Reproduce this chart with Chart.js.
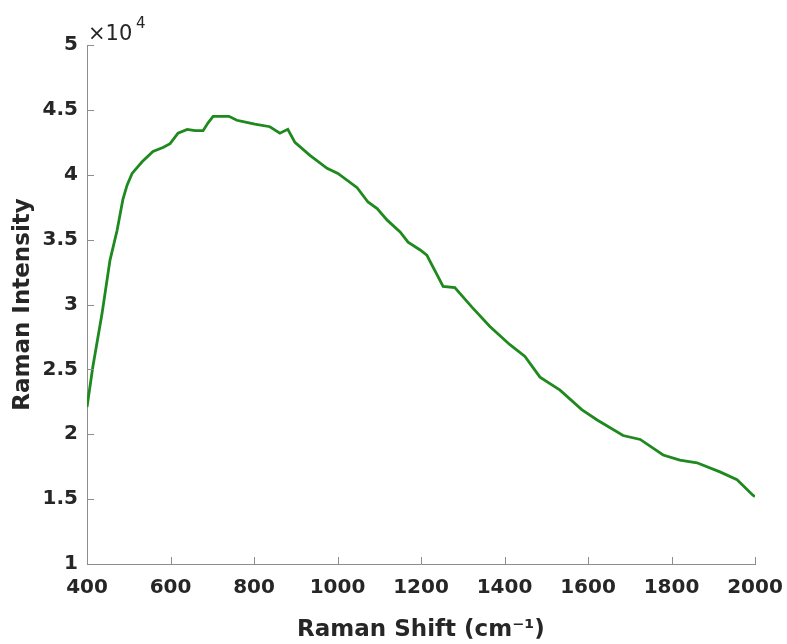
<!DOCTYPE html>
<html>
<head>
<meta charset="utf-8">
<script src="https://cdn.jsdelivr.net/npm/chart.js@4"></script>
<style>
  html, body { margin: 0; padding: 0; background: #fff; }
  #wrap { width: 787px; height: 644px; }
</style>
</head>
<body>
<div id="wrap"><canvas id="chartRaman" width="787" height="644"></canvas></div>
<script>
const chartRaman = document.getElementById("chartRaman");

// Raman spectrum (intensity in units of 1e4)
const shift = [400, 414, 436, 455, 472, 486, 496, 508, 532, 558, 582, 599, 618, 640, 659, 678, 690, 702,
	720, 740, 759, 774, 802, 838, 862, 881, 898, 934, 975, 1001, 1047, 1073, 1095, 1119, 1150, 1169,
	1198, 1214, 1222, 1253, 1281, 1322, 1365, 1413, 1449, 1485, 1533, 1585, 1622, 1684, 1725, 1780,
	1820, 1861, 1916, 1957, 1995, 2000];
const intensity = [2.21, 2.52, 2.93, 3.34, 3.57, 3.81, 3.92, 4.01, 4.10, 4.18, 4.21, 4.24, 4.32, 4.35, 4.34, 4.34, 4.40, 4.45,
	4.45, 4.45, 4.42, 4.41, 4.39, 4.37, 4.32, 4.35, 4.25, 4.15, 4.05, 4.01, 3.90, 3.79, 3.74, 3.65, 3.56, 3.48,
	3.42, 3.38, 3.33, 3.14, 3.13, 2.98, 2.83, 2.69, 2.60, 2.44, 2.34, 2.19, 2.11, 1.99, 1.96, 1.84,
	1.80, 1.78, 1.71, 1.65, 1.53, 1.52];

const xTicks = [400, 600, 800, 1000, 1200, 1400, 1600, 1800, 2000];
const yTicks = [1, 1.5, 2, 2.5, 3, 3.5, 4, 4.5, 5];

const axisGrey = '#8c8c8c';
const textDark = '#262626';

let points = [];
shift.forEach(function(x, i){
	points.push({ x: x, y: intensity[i] * 10000 });
})

// ticks pointing inside + the x10^4 multiplier
const matlabAxes = {
	id: 'matlabAxes',
	afterDraw(chart) {
		const ctx = chart.ctx;
		const xs = chart.scales.x;
		const ys = chart.scales.y;
		ctx.save();
		ctx.strokeStyle = axisGrey;
		ctx.lineWidth = 1;
		ctx.beginPath();
		xTicks.forEach(function(v){
			const px = Math.round(xs.getPixelForValue(v)) + 0.5;
			ctx.moveTo(px, ys.bottom);
			ctx.lineTo(px, ys.bottom - 7);
		})
		yTicks.forEach(function(v){
			const py = Math.round(ys.getPixelForValue(v * 10000)) + 0.5;
			ctx.moveTo(xs.left, py);
			ctx.lineTo(xs.left + 7, py);
		})
		ctx.stroke();

		ctx.fillStyle = textDark;
		ctx.textBaseline = 'alphabetic';
		ctx.textAlign = 'left';
		ctx.font = '21px "DejaVu Sans"';
		ctx.fillText('\u00d710', xs.left + 1, 40);
		ctx.font = '15px "DejaVu Sans"';
		ctx.fillText('4', xs.left + 49, 28);
		ctx.restore();
	}
};

const ramanChart = new Chart(chartRaman, {
	type: 'line',
	data: {
		datasets: [{
			data: points,
			borderColor: '#1e8a1e',
			borderWidth: 2.8,
			pointRadius: 0,
			tension: 0,
			fill: false
		}]
	},
	options: {
		responsive: false,
		animation: false,
		layout: {
			padding: { top: 45, right: 32, bottom: 0, left: 0 }
		},
		plugins: {
			legend: { display: false },
			tooltip: { enabled: false }
		},
		scales: {
			x: {
				type: 'linear',
				min: 400,
				max: 2000,
				afterFit: function(s){ s.height = 80; s.paddingRight = 0; },
				afterBuildTicks: function(s){ s.ticks = xTicks.map(function(v){ return { value: v }; }); },
				grid: { display: false, drawTicks: false },
				border: { display: true, color: axisGrey, width: 1 },
				ticks: {
					padding: 12,
					color: textDark,
					font: { family: 'DejaVu Sans', size: 20, weight: 'bold' },
					maxRotation: 0,
					callback: function(v){ return String(v); }
				},
				title: {
					display: true,
					text: 'Raman Shift (cm\u207b\u00b9)',
					color: textDark,
					font: { family: 'DejaVu Sans', size: 23, weight: 'bold' },
					padding: { top: 0, bottom: 0 }
				}
			},
			y: {
				min: 10000,
				max: 50000,
				afterFit: function(s){ s.width = 87; },
				afterBuildTicks: function(s){ s.ticks = yTicks.map(function(v){ return { value: v * 10000 }; }); },
				grid: { display: false, drawTicks: false },
				border: { display: true, color: axisGrey, width: 1 },
				ticks: {
					padding: 9,
					color: textDark,
					font: { family: 'DejaVu Sans', size: 20, weight: 'bold' },
					callback: function(v){ return String(v / 10000); }
				},
				title: {
					display: true,
					text: 'Raman Intensity',
					color: textDark,
					font: { family: 'DejaVu Sans', size: 23, weight: 'bold' },
					padding: { top: 9, bottom: 0 }
				}
			}
		}
	},
	plugins: [matlabAxes]
})
</script>
</body>
</html>
